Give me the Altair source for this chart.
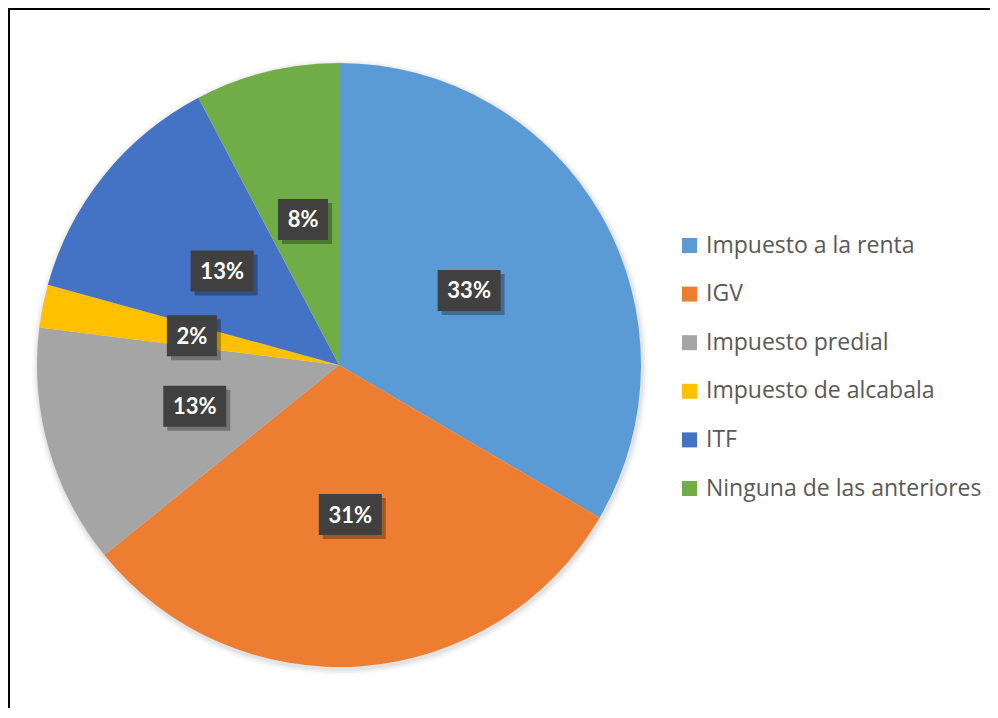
import altair as alt
import pandas as pd

categories = ["Impuesto a la renta", "IGV", "Impuesto predial",
              "Impuesto de alcabala", "ITF", "Ninguna de las anteriores"]
values = [33.4, 30.7, 12.8, 2.3, 13.0, 7.7]
labels = ["33%", "31%", "13%", "2%", "13%", "8%"]
colors = ["#5B9BD5", "#ED7D31", "#A5A5A5", "#FFC000", "#4472C4", "#70AD47"]

df = pd.DataFrame({
    "idx": list(range(len(categories))),
    "category": categories,
    "value": values,
    "label": labels,
})

W, H = 982, 700
CX, CY, R, LR = 331, 357, 302, 150

base = alt.Chart(df)

xs = alt.Scale(domain=[0, W], nice=False, zero=False)
ys = alt.Scale(domain=[0, H], nice=False, zero=False, reverse=True)

frame_top = base.mark_rule(color="black", strokeWidth=2).encode(
    x=alt.value(0), x2=alt.value(W), y=alt.value(1))
frame_left = base.mark_rule(color="black", strokeWidth=2).encode(
    x=alt.value(0.5), y=alt.value(0), y2=alt.value(H))

theta = alt.Theta("value:Q", stack=True)

shadow_layers = [
    base.mark_arc(outerRadius=R + d, color="black", opacity=op).encode(
        theta=theta, order=alt.Order("idx:Q"),
        x=alt.value(CX + 1), y=alt.value(CY + 2))
    for d, op in [(6, 0.025), (4, 0.035), (2, 0.05)]
]

pie = base.mark_arc(outerRadius=R).encode(
    theta=theta,
    order=alt.Order("idx:Q"),
    x=alt.value(CX), y=alt.value(CY),
    color=alt.Color("category:N",
                    scale=alt.Scale(domain=categories, range=colors),
                    sort=categories,
                    legend=alt.Legend(
                        title=None, orient="none", legendX=670, legendY=226,
                        symbolType="square", symbolSize=225, symbolStrokeWidth=0,
                        labelFont="Open Sans", labelFontSize=23, labelColor="#595959",
                        labelOffset=5, rowPadding=24.6, labelLimit=400)),
)

pos = (base
       .transform_joinaggregate(total="sum(value)")
       .transform_window(cum="sum(value)", sort=[alt.SortField("idx")],
                         frame=[None, 0])
       .transform_calculate(
           mid="(datum.cum - datum.value/2)/datum.total*2*PI",
           w="length(datum.label) > 2 ? 63 : 50")
       .transform_calculate(
           cx=f"{CX} + {LR}*sin(datum.mid)",
           cy=f"{CY} - {LR}*cos(datum.mid)")
       .transform_calculate(
           x1="datum.cx - datum.w/2", x2="datum.cx + datum.w/2",
           y1="datum.cy - 20.5", y2="datum.cy + 20.5",
           sx1="datum.cx - datum.w/2 + 4", sx2="datum.cx + datum.w/2 + 4",
           sy1="datum.cy - 20.5 + 4", sy2="datum.cy + 20.5 + 4"))

box_shadow = pos.mark_rect(color="black", opacity=0.3).encode(
    x=alt.X("sx1:Q", scale=xs, axis=None), x2="sx2:Q",
    y=alt.Y("sy1:Q", scale=ys, axis=None), y2="sy2:Q")

boxes = pos.mark_rect(color="#404040").encode(
    x=alt.X("x1:Q", scale=xs, axis=None), x2="x2:Q",
    y=alt.Y("y1:Q", scale=ys, axis=None), y2="y2:Q")

texts = pos.mark_text(font="Lato", fontWeight="bold", fontSize=22,
                      color="white", baseline="middle", align="center",
                      dy=1).encode(
    x=alt.X("cx:Q", scale=xs, axis=None),
    y=alt.Y("cy:Q", scale=ys, axis=None),
    text="label:N")

chart = alt.layer(
    *shadow_layers, pie, box_shadow, boxes, texts, frame_top, frame_left
).properties(
    width=W, height=H, padding=0, autosize=alt.AutoSizeParams(type="none")
).configure_view(strokeWidth=0, stroke="transparent"
).configure_axis(disable=True, domain=False, grid=False
).configure(background="white")

chart.save("out.html", embed_options={"renderer": "svg", "actions": False})
